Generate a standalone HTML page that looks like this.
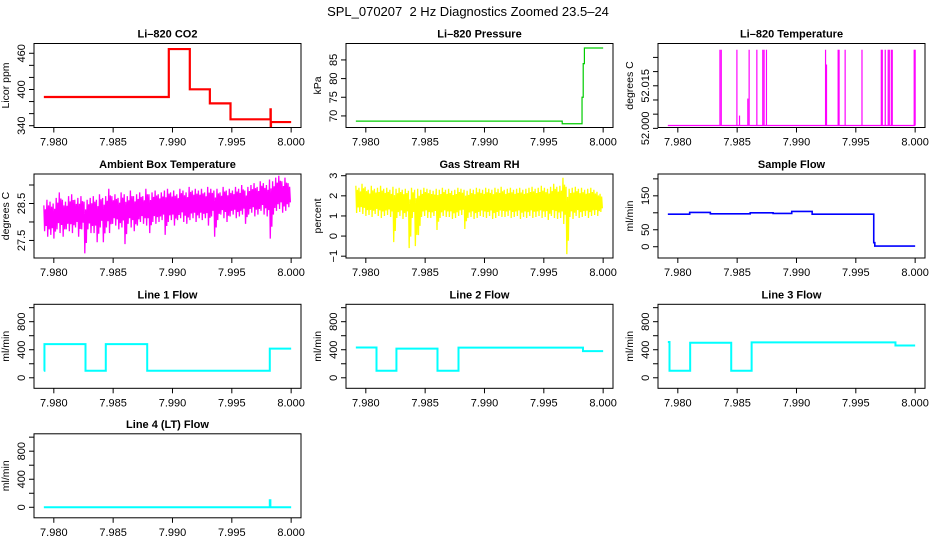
<!DOCTYPE html>
<html><head><meta charset="utf-8">
<style>
html,body{margin:0;padding:0;background:#fff;}
svg{display:block;font-family:"Liberation Sans",Arial,sans-serif;}
</style></head>
<body>
<svg id="chart" width="936" height="540" viewBox="0 0 936 540" xmlns="http://www.w3.org/2000/svg">
<text x="468" y="16" text-anchor="middle" font-size="13">SPL_070207&#160; 2 Hz Diagnostics Zoomed 23.5–24</text>
</svg>
<script>
// shared x ticks
const xTicks = [7.980, 7.985, 7.990, 7.995, 8.000];
const xTickLabels = ["7.980", "7.985", "7.990", "7.995", "8.000"];

// Li-820 CO2 (step series)
const co2T = [7.97916, 7.98969, 7.99146, 7.99315, 7.99489, 7.99826, 7.99828, 7.99830, 8.0];
const co2V = [387.6, 467, 400.3, 377, 350.6, 367, 339.5, 346];
// Li-820 pressure
const presT = [7.97916, 7.99655, 7.99822, 7.99832, 7.99842, 8.0];
const presV = [68.6, 67.9, 75, 84, 88.2];
// Li-820 temperature spikes
const tempBase = 52.001;
const tempSpikeT = [7.98355, 7.98366, 7.98498, 7.9852, 7.9859, 7.98601, 7.98666, 7.98716, 7.98727, 7.98747, 7.99245, 7.99253, 7.99351, 7.99359, 7.99410, 7.99552, 7.99715, 7.99723, 7.99748, 7.99773, 7.99782, 7.99799, 7.99807, 7.99992, 8.0];
const tempSpikeV = [52.0277, 52.0277, 52.0277, 52.0045, 52.0105, 52.0277, 52.0277, 52.0277, 52.0277, 52.0277, 52.0277, 52.0225, 52.0277, 52.0277, 52.0277, 52.0277, 52.0277, 52.0277, 52.0277, 52.0277, 52.0277, 52.0277, 52.0277, 52.0277, 52.0277];
// Ambient box temperature (per-bin low / high)
const ambLo = [27.75,27.6,27.65,27.55,27.8,27.7,27.6,27.8,27.75,27.7,
27.85,27.6,27.8,27.15,27.8,27.7,27.7,27.45,27.85,27.45,
27.85,27.7,27.95,27.9,27.8,27.85,27.4,27.95,27.85,27.75,
27.9,28.0,27.95,27.9,27.7,28.0,27.95,28.0,28.05,27.65,
28.0,28.05,27.9,28.05,28.1,28.0,27.95,28.05,28.1,28.0,
28.1,28.05,28.1,27.9,28.15,27.6,28.05,28.2,28.1,28.0,
28.15,28.2,28.1,28.15,28.2,27.95,28.2,28.25,28.15,28.2,
28.3,28.2,28.15,27.55,28.2,28.3,28.35,28.25,28.3,28.4];
const ambHi = [28.45,28.6,28.55,28.5,28.65,28.8,28.6,28.55,28.7,28.75,
28.6,28.65,28.7,28.55,28.6,28.65,28.7,28.6,28.75,28.65,
28.7,28.9,28.7,28.75,28.65,28.8,28.75,28.7,28.85,28.7,
28.75,28.8,28.7,28.9,28.75,28.8,28.85,28.75,28.8,28.85,
28.9,28.8,28.85,28.75,28.9,28.85,28.8,28.95,28.85,28.9,
28.85,28.9,28.8,28.95,28.9,28.85,28.9,28.8,28.95,28.85,
28.9,28.85,28.95,28.9,29.0,28.85,28.95,29.0,29.05,28.95,
29.1,29.05,29.0,29.15,29.1,29.2,29.25,29.1,29.2,29.05];
// Gas stream RH (per-bin low / high)
const rhLo = [1.15,1.2,1.1,1.0,1.05,0.95,1.1,1.0,0.9,1.0,
1.05,0.95,-0.3,0.9,1.0,0.85,0.95,-0.6,0.9,-0.5,
0.05,0.95,1.0,0.9,0.9,1.0,0.3,0.9,1.0,0.95,
0.95,0.85,0.9,1.0,1.05,0.35,0.9,0.95,0.85,0.9,
1.0,0.95,0.9,1.0,0.85,0.9,1.0,0.95,0.95,1.0,
0.9,0.95,1.0,0.85,0.95,0.9,1.0,0.9,0.95,1.0,
0.9,0.95,0.8,1.0,0.9,0.85,0.9,0.6,-0.9,0.95,
0.85,1.0,0.9,0.95,1.0,0.9,1.0,1.05,1.0,1.2];
const rhHi = [2.5,2.4,2.6,2.45,2.3,2.5,2.35,2.4,2.5,2.35,
2.4,2.3,2.45,2.35,2.4,2.3,2.35,2.25,2.4,2.3,
2.35,2.3,2.4,2.35,2.3,2.25,2.35,2.3,2.4,2.3,
2.35,2.25,2.3,2.4,2.35,2.3,2.25,2.35,2.3,2.4,
2.35,2.3,2.4,2.35,2.3,2.4,2.35,2.45,2.3,2.35,
2.4,2.3,2.35,2.4,2.3,2.35,2.4,2.45,2.35,2.4,
2.5,2.4,2.35,2.45,2.6,2.45,2.5,2.9,2.45,2.35,
2.4,2.45,2.35,2.4,2.3,2.35,2.4,2.3,2.2,2.1];
// Sample flow
const sfT = [7.97916, 7.9810, 7.98274, 7.9861, 7.98803, 7.9896, 7.99132, 7.99651, 7.99660, 8.0];
const sfV = [96, 101, 97, 100, 98, 104, 96, 12, 2];
// Line flows
const l1T = [7.97916, 7.97921, 7.98267, 7.98438, 7.98787, 7.9982, 8.0];
const l1V = [100, 480, 100, 480, 100, 415];
const l2T = [7.97916, 7.9809, 7.98258, 7.98604, 7.98781, 7.9983, 8.0];
const l2V = [432, 100, 415, 100, 430, 380];
const l3T = [7.97916, 7.97930, 7.98104, 7.98450, 7.98622, 7.99834, 8.0];
const l3V = [510, 100, 500, 100, 505, 460];
const l4T = [7.97916, 7.9982, 7.99825, 8.0];
const l4V = [0, 100, 0];

const NS = "http://www.w3.org/2000/svg";
const svg = document.getElementById("chart");
const colLeft = [34, 346, 658];
const rowTop = [43.5, 174, 304.3, 433.8];
const W = 267, H = 84;
const XMIN = 7.97833, XMAX = 8.00083;

function mk(tag, attrs, parent) {
  const e = document.createElementNS(NS, tag);
  for (const k in attrs) e.setAttribute(k, attrs[k]);
  (parent || svg).appendChild(e);
  return e;
}

function panel(name, col, row, title, ylab, ylim, yTicks, yLabels) {
  const g = mk("g", {});
  
  
  const L = colLeft[col], T = rowTop[row];
  const sx = v => L + (v - XMIN) / (XMAX - XMIN) * W;
  const sy = v => T + H - (v - ylim[0]) / (ylim[1] - ylim[0]) * H;
  const t = mk("text", {x: L + W / 2, y: T - 6, "text-anchor": "middle", "font-size": "11", "font-weight": "bold"}, g);
  t.textContent = title;
  
  
  const box = mk("rect", {x: L, y: T, width: W, height: H, fill: "none", stroke: "#000", "stroke-width": "1"}, g);
  
  
  const xa = mk("g", {}, g);
  
  
  xTicks.forEach((v, i) => {
    const x = sx(v);
    mk("line", {x1: x, x2: x, y1: T + H, y2: T + H + 5, stroke: "#000"}, xa);
    const tx = mk("text", {x: x, y: T + H + 18, "text-anchor": "middle", "font-size": "11"}, xa);
    tx.textContent = xTickLabels[i];
  });
  const ya = mk("g", {}, g);
  
  
  yTicks.forEach((v, i) => {
    const y = sy(v);
    mk("line", {x1: L - 5, x2: L, y1: y, y2: y, stroke: "#000"}, ya);
    if (yLabels[i]) {
      const tx = mk("text", {x: L - 9, y: y, "text-anchor": "middle", "font-size": "11", transform: `rotate(-90 ${L - 9} ${y})`}, ya);
      tx.textContent = yLabels[i];
    }
  });
  const yl = mk("text", {x: L - 25, y: T + H / 2, "text-anchor": "middle", "font-size": "10.5", transform: `rotate(-90 ${L - 25} ${T + H / 2})`}, g);
  yl.textContent = ylab;
  
  
  return {g, sx, sy};
}

function stepSeries(p, ts, vs, color, w, name) {
  let d = "";
  for (let i = 0; i < vs.length; i++) {
    const y = p.sy(vs[i]);
    d += (i === 0 ? "M" : "L") + p.sx(ts[i]).toFixed(2) + "," + y.toFixed(2) + "L" + p.sx(ts[i + 1]).toFixed(2) + "," + y.toFixed(2);
  }
  const e = mk("path", {d: d, fill: "none", stroke: color, "stroke-width": w}, p.g);
  
  
}

function bandSeries(p, lo, hi, color, name) {
  const t0 = 7.97916, t1 = 8.0, n = lo.length;
  let d = "";
  for (let i = 0; i < n; i++) {
    const xa = p.sx(t0 + (t1 - t0) * i / n), xb = p.sx(t0 + (t1 - t0) * (i + 1) / n);
    const w = (xb - xa) / 4;
    const mid = (lo[i] + hi[i]) / 2;
    d += (i === 0 ? "M" : "L") + xa.toFixed(2) + "," + p.sy(hi[i]).toFixed(2);
    d += "L" + (xa + w).toFixed(2) + "," + p.sy(lo[i]).toFixed(2);
    d += "L" + (xa + 2 * w).toFixed(2) + "," + p.sy(hi[i] - (hi[i] - mid) * 0.3).toFixed(2);
    d += "L" + (xa + 3 * w).toFixed(2) + "," + p.sy(lo[i] + (mid - lo[i]) * 0.4).toFixed(2);
  }
  const e = mk("path", {d: d, fill: "none", stroke: color, "stroke-width": "1.3"}, p.g);
  
  
}

// Row 1
let p = panel("co2", 0, 0, "Li–820 CO2", "Licor ppm", [337, 476.2], [340, 360, 380, 400, 420, 440, 460], ["340", "", "", "400", "", "", "460"]);
stepSeries(p, co2T, co2V, "#ff0000", 2.2, "co2-line");

p = panel("pressure", 1, 0, "Li–820 Pressure", "kPa", [66.9, 89.4], [70, 75, 80, 85], ["70", "75", "80", "85"]);
stepSeries(p, presT, presV, "#00cc00", 1.2, "pressure-line");

p = panel("li820-temp", 2, 0, "Li–820 Temperature", "degrees C", [52.0003, 52.0299], [52.000, 52.005, 52.010, 52.015, 52.020, 52.025], ["52.000", "", "", "52.015", "", ""]);
{
  const base = mk("line", {x1: p.sx(7.97916), x2: p.sx(8.0), y1: p.sy(tempBase), y2: p.sy(tempBase), stroke: "#ff00ff", "stroke-width": "1.2"}, p.g);
  
  
  tempSpikeT.forEach((t, i) => {
    const s = mk("line", {x1: p.sx(t), x2: p.sx(t), y1: p.sy(tempBase), y2: p.sy(tempSpikeV[i]), stroke: "#ff00ff", "stroke-width": "1.2"}, p.g);
    
    
  });
}

// Row 2
p = panel("ambient", 0, 1, "Ambient Box Temperature", "degrees C", [27.025, 29.298], [27.5, 28.0, 28.5, 29.0], ["27.5", "", "28.5", ""]);
bandSeries(p, ambLo, ambHi, "#ff00ff", "ambient-temp-line");

p = panel("rh", 1, 1, "Gas Stream RH", "percent", [-1.09, 3.085], [-1, 0, 1, 2, 3], ["−1", "0", "1", "2", "3"]);
bandSeries(p, rhLo, rhHi, "#ffff00", "rh-line");

p = panel("sample-flow", 2, 1, "Sample Flow", "ml/min", [-33.2, 214.3], [0, 50, 100, 150, 200], ["0", "50", "", "150", ""]);
stepSeries(p, sfT, sfV, "#0000ff", 1.6, "sample-flow-line");

// Row 3
const flowTicks = [0, 200, 400, 600, 800, 1000];
const flowLabels = ["0", "", "400", "", "800", ""];
p = panel("line1", 0, 2, "Line 1 Flow", "ml/min", [-150, 1048], flowTicks, flowLabels);
stepSeries(p, l1T, l1V, "#00ffff", 2, "line1-flow-line");
p = panel("line2", 1, 2, "Line 2 Flow", "ml/min", [-150, 1048], flowTicks, flowLabels);
stepSeries(p, l2T, l2V, "#00ffff", 2, "line2-flow-line");
p = panel("line3", 2, 2, "Line 3 Flow", "ml/min", [-150, 1048], flowTicks, flowLabels);
stepSeries(p, l3T, l3V, "#00ffff", 2, "line3-flow-line");

// Row 4
p = panel("line4", 0, 3, "Line 4 (LT) Flow", "ml/min", [-150, 1048], flowTicks, flowLabels);
stepSeries(p, l4T, l4V, "#00ffff", 2, "line4-flow-line");
</script>
</body></html>
